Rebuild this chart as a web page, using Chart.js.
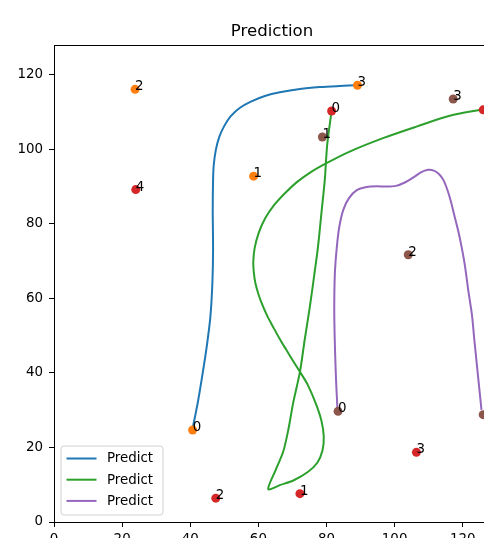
<!DOCTYPE html>
<html><head><meta charset="utf-8">
<script src="https://cdn.jsdelivr.net/npm/chart.js@4/dist/chart.umd.min.js"></script>
<style>
html,body{margin:0;padding:0;overflow:hidden;background:#fff;width:484px;height:538px;}
#wrap{position:absolute;left:0;top:0;width:500px;height:560px;}
</style></head><body>
<div id="wrap"><canvas id="c" width="500" height="560"></canvas></div>
<script>
// ---- data ----
const chartTitle = 'Prediction';
const xTicksStep = 20;
const yTicksStep = 20;

const orangeX = [40.7, 58.6, 23.8, 89.1];
const orangeY = [24.7, 92.8, 116.1, 117.2];
const orangeLabels = ['0', '1', '2', '3'];

const redX = [81.5, 72.2, 47.5, 106.4, 24.0, 126.0];
const redY = [110.3, 7.6, 6.4, 18.7, 89.2, 110.6];
const redLabels = ['0', '1', '2', '3', '4', '5'];

const brownX = [83.4, 78.8, 104.0, 117.2, 126.0];
const brownY = [29.7, 103.3, 71.7, 113.5, 28.8];
const brownLabels = ['0', '1', '2', '3', '4'];

const blueX = [40.8, 42.1, 43.2, 44.7, 45.9, 46.5, 46.7, 46.6, 46.7, 46.9, 47.5, 48.5, 50.0, 51.9, 54.5, 57.8, 61.9, 66.3, 72.2, 78.0, 83.9, 88.9];
const blueY = [25.6, 31.5, 37.4, 46.2, 55.0, 64.2, 73.0, 83.7, 91.8, 95.8, 99.8, 103.3, 106.3, 108.9, 111.1, 112.8, 114.3, 115.3, 116.2, 116.7, 117.0, 117.2];

const greenX = [125.7, 116.2, 106.4, 96.6, 86.8, 80.0, 75.4, 71.3, 67.8, 64.5, 62.0, 60.1, 58.9, 58.5, 58.65, 59.1, 60.0, 61.15, 62.6, 64.3, 66.1, 68.2, 70.2, 72.2, 74.5, 76.9, 78.5, 79.2, 78.8, 77.3, 74.5, 70.4, 66.3, 62.9, 65.1, 67.3, 68.8, 70.2, 72.2, 73.6, 75.1, 76.6, 77.5, 78.6, 79.5, 80.2, 81.5];
const greenY = [110.7, 109.0, 106.1, 103.0, 99.4, 96.3, 93.9, 91.2, 88.2, 84.9, 81.5, 77.6, 73.5, 69.8, 67.1, 64.2, 61.2, 58.3, 55.3, 52.4, 49.4, 46.2, 43.2, 40.3, 36.8, 31.7, 27.2, 22.9, 19.1, 15.9, 13.4, 11.2, 9.9, 8.8, 14.0, 18.9, 24.8, 31.9, 40.3, 48.9, 57.7, 67.6, 73.8, 83.7, 91.8, 101.2, 110.3];

const purpleX = [83.2, 82.8, 82.5, 82.3, 82.3, 82.5, 83.0, 83.7, 84.9, 86.6, 88.8, 91.8, 94.8, 97.6, 100.4, 103.0, 105.4, 107.7, 109.8, 111.5, 113.0, 114.3, 115.5, 116.5, 117.5, 118.6, 119.6, 120.6, 121.6, 122.7, 123.4, 124.5, 125.5];
const purpleY = [30.6, 38.2, 46.2, 54.2, 60.9, 67.6, 73.5, 78.9, 83.7, 86.9, 89.0, 89.9, 90.1, 90.0, 90.2, 91.1, 92.4, 93.8, 94.5, 94.3, 93.4, 91.8, 89.1, 86.1, 82.4, 78.4, 74.1, 69.0, 62.3, 55.6, 48.9, 39.0, 30.1];

const legendLabels = ['Predict', 'Predict', 'Predict'];

// ---- helpers ----
const pts = (xs, ys) => xs.map((x, i) => ({x: x, y: ys[i]}));
const FONT = 'DejaVu Sans';
const TICK_SIZE = 13.4;

const labelPlugin = {
  id: 'pointLabels',
  afterDatasetsDraw(chart) {
    const ctx = chart.ctx;
    ctx.save();
    ctx.font = TICK_SIZE + 'px "' + FONT + '"';
    ctx.fillStyle = '#000';
    ctx.textAlign = 'left';
    ctx.textBaseline = 'alphabetic';
    chart.data.datasets.forEach((ds, di) => {
      if (!ds.pointLabels) return;
      const meta = chart.getDatasetMeta(di);
      meta.data.forEach((el, i) => {
        ctx.fillText(ds.pointLabels[i], el.x, el.y + 1);
      });
    });
    ctx.restore();
  }
};

const framePlugin = {
  id: 'frame',
  afterDatasetsDraw(chart) {
    const a = chart.chartArea, ctx = chart.ctx;
    ctx.save();
    ctx.strokeStyle = '#000';
    ctx.lineWidth = 1;
    ctx.strokeRect(Math.round(a.left) + 0.5, Math.round(a.top) + 0.5, Math.round(a.right - a.left), Math.round(a.bottom - a.top));
    ctx.restore();
  }
};

const titlePlugin = {
  id: 'axTitle',
  afterDraw(chart) {
    const a = chart.chartArea, ctx = chart.ctx;
    ctx.save();
    ctx.font = '16.6px "' + FONT + '"';
    ctx.fillStyle = '#000';
    ctx.textAlign = 'center';
    ctx.textBaseline = 'alphabetic';
    ctx.fillText(chartTitle, (a.left + a.right) / 2, a.top - 9);
    ctx.restore();
  }
};

const legendPlugin = {
  id: 'innerLegend',
  afterDraw(chart) {
    const a = chart.chartArea, ctx = chart.ctx;
    const lines = chart.data.datasets.filter(d => d.showLine);
    const x0 = a.left + 7, y1 = a.bottom - 7;
    const w = 102, h = 69;
    const y0 = y1 - h;
    ctx.save();
    ctx.beginPath();
    const r = 3;
    ctx.moveTo(x0 + r, y0);
    ctx.lineTo(x0 + w - r, y0); ctx.quadraticCurveTo(x0 + w, y0, x0 + w, y0 + r);
    ctx.lineTo(x0 + w, y1 - r); ctx.quadraticCurveTo(x0 + w, y1, x0 + w - r, y1);
    ctx.lineTo(x0 + r, y1); ctx.quadraticCurveTo(x0, y1, x0, y1 - r);
    ctx.lineTo(x0, y0 + r); ctx.quadraticCurveTo(x0, y0, x0 + r, y0);
    ctx.closePath();
    ctx.fillStyle = 'rgba(255,255,255,0.8)';
    ctx.fill();
    ctx.strokeStyle = '#d0d0d0';
    ctx.lineWidth = 1;
    ctx.stroke();
    ctx.font = TICK_SIZE + 'px "' + FONT + '"';
    ctx.textBaseline = 'middle';
    ctx.textAlign = 'left';
    lines.forEach((d, i) => {
      const yy = y0 + 12.5 + i * 21.2;
      ctx.beginPath();
      ctx.strokeStyle = d.borderColor;
      ctx.lineWidth = 2;
      ctx.moveTo(x0 + 5.5, yy);
      ctx.lineTo(x0 + 35.5, yy);
      ctx.stroke();
      ctx.fillStyle = '#000';
      ctx.fillText(legendLabels[i], x0 + 46, yy + 0.5);
    });
    ctx.restore();
  }
};

Chart.defaults.font.family = FONT;
Chart.defaults.color = '#000';

const axisCommon = (step, pad) => ({
  type: 'linear', min: 0, max: 128,
  ticks: {stepSize: step, includeBounds: false, maxRotation: 0, autoSkip: false,
          font: {size: TICK_SIZE}, color: '#000', padding: pad},
  grid: {drawOnChartArea: false, drawTicks: true, tickLength: 5, color: '#000', tickWidth: 1},
  border: {display: true, color: '#000', width: 1}
});

const xAxis = axisCommon(xTicksStep, 4);
xAxis.afterFit = s => { s.height = 30; };
const yAxis = axisCommon(yTicksStep, 6);
yAxis.afterFit = s => { s.width = 54; };

new Chart(document.getElementById('c'), {
  type: 'scatter',
  data: {
    datasets: [
      {label: 'orange', data: pts(orangeX, orangeY), backgroundColor: '#ff7f0e', borderWidth: 0, pointRadius: 4.5, order: 0, pointLabels: orangeLabels},
      {label: 'red', data: pts(redX, redY), backgroundColor: '#d62728', borderWidth: 0, pointRadius: 4.5, order: 0, pointLabels: redLabels},
      {label: 'brown', data: pts(brownX, brownY), backgroundColor: '#8c564b', borderWidth: 0, pointRadius: 4.5, order: 0, pointLabels: brownLabels},
      {label: 'Predict', data: pts(blueX, blueY), showLine: true, borderColor: '#1f77b4', borderWidth: 2, pointRadius: 0, tension: 0.3, order: 1},
      {label: 'Predict', data: pts(greenX, greenY), showLine: true, borderColor: '#2ca02c', borderWidth: 2, pointRadius: 0, tension: 0.3, order: 1},
      {label: 'Predict', data: pts(purpleX, purpleY), showLine: true, borderColor: '#9467bd', borderWidth: 2, pointRadius: 0, tension: 0.3, order: 1}
    ]
  },
  options: {
    responsive: false, animation: false, devicePixelRatio: 1,
    layout: {padding: {left: 0, right: 10, top: 45, bottom: 8}},
    plugins: {
      legend: {display: false},
      tooltip: {enabled: false},
      title: {display: false}
    },
    scales: {x: xAxis, y: yAxis}
  },
  plugins: [framePlugin, labelPlugin, legendPlugin, titlePlugin]
});
</script>
</body></html>
